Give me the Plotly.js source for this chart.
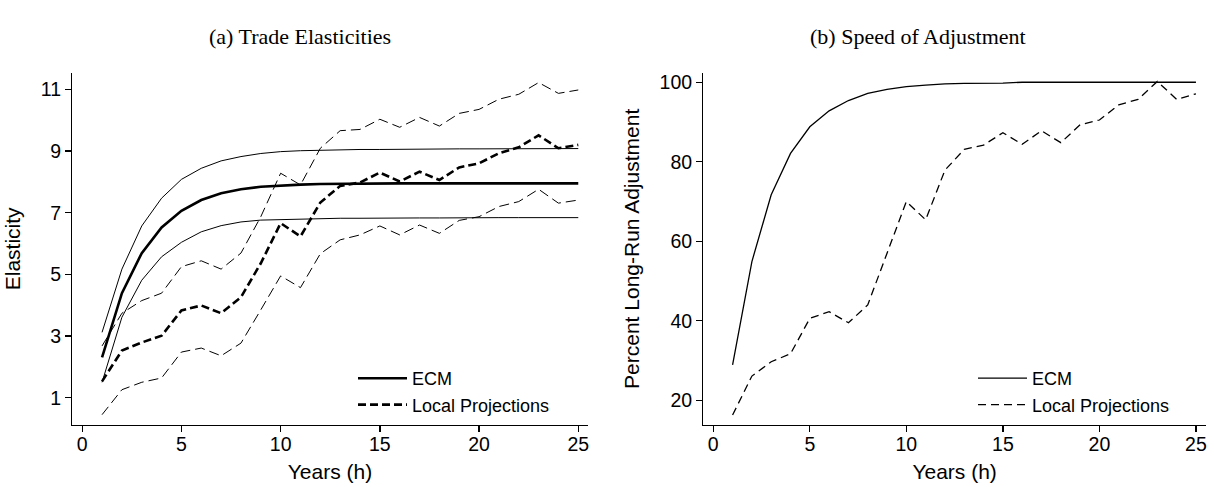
<!DOCTYPE html>
<html>
<head>
<meta charset="utf-8">
<script src="https://cdn.plot.ly/plotly-3.0.1.min.js"></script>
<style>html,body{margin:0;padding:0;background:#fff}#chart{width:1214px;height:487px}</style>
</head>
<body>
<div id="chart"></div>
<script>
const years = [1,2,3,4,5,6,7,8,9,10,11,12,13,14,15,16,17,18,19,20,21,22,23,24,25];

// Panel (a): Trade elasticities
const ecmElasticity = [2.31,4.39,5.69,6.52,7.06,7.41,7.63,7.76,7.84,7.88,7.91,7.93,7.94,7.94,7.95,7.95,7.95,7.95,7.95,7.95,7.95,7.95,7.95,7.95,7.95];
const ecmUpper = [3.12,5.17,6.57,7.47,8.08,8.44,8.68,8.82,8.92,8.98,9.01,9.03,9.04,9.05,9.05,9.06,9.06,9.07,9.07,9.07,9.07,9.08,9.08,9.08,9.08];
const ecmLower = [1.50,3.61,4.81,5.57,6.04,6.38,6.58,6.70,6.76,6.78,6.80,6.81,6.82,6.82,6.83,6.83,6.83,6.83,6.84,6.84,6.84,6.84,6.84,6.84,6.84];
const lpElasticity = [1.53,2.53,2.79,3.01,3.83,3.99,3.74,4.26,5.36,6.66,6.23,7.33,7.87,7.98,8.30,8.01,8.33,8.06,8.47,8.60,8.93,9.12,9.51,9.09,9.20];
const lpUpper = [2.68,3.74,4.15,4.39,5.25,5.44,5.17,5.69,6.87,8.28,7.90,9.09,9.66,9.70,10.03,9.77,10.09,9.81,10.22,10.35,10.68,10.84,11.22,10.87,10.98];
const lpLower = [0.45,1.26,1.50,1.64,2.48,2.61,2.36,2.77,3.85,4.95,4.57,5.67,6.12,6.28,6.57,6.28,6.60,6.33,6.75,6.87,7.20,7.36,7.76,7.31,7.41];

// Panel (b): Speed of adjustment (percent of long-run)
const ecmAdjust = [28.9,54.9,71.7,82.1,88.8,92.8,95.4,97.2,98.2,98.9,99.3,99.6,99.7,99.7,99.8,100,100,100,100,100,100,100,100,100,100];
const lpAdjust = [16.3,26.1,29.7,31.7,40.6,42.3,39.5,44.0,57.0,70.0,65.4,77.9,83.1,84.2,87.3,84.4,87.8,84.8,89.3,90.5,94.3,95.7,100.2,95.7,97.1];

const xTicks = [0,5,10,15,20,25];
const yTicksA = [1,3,5,7,9,11];
const yTicksB = [20,40,60,80,100];

const sans = "Liberation Sans, Arial, sans-serif";
const serif = "Liberation Serif, DejaVu Serif, serif";

const traces = [
  {x: years, y: ecmUpper, mode:'lines', line:{color:'#000', width:1}, showlegend:false, xaxis:'x', yaxis:'y', hoverinfo:'skip'},
  {x: years, y: ecmLower, mode:'lines', line:{color:'#000', width:1}, showlegend:false, xaxis:'x', yaxis:'y', hoverinfo:'skip'},
  {x: years, y: lpUpper, mode:'lines', line:{color:'#000', width:1, dash:'10px,5px'}, showlegend:false, xaxis:'x', yaxis:'y', hoverinfo:'skip'},
  {x: years, y: lpLower, mode:'lines', line:{color:'#000', width:1, dash:'10px,5px'}, showlegend:false, xaxis:'x', yaxis:'y', hoverinfo:'skip'},
  {x: years, y: ecmElasticity, name:'ECM', mode:'lines', line:{color:'#000', width:2.6}, xaxis:'x', yaxis:'y', legend:'legend'},
  {x: years, y: lpElasticity, name:'Local Projections', mode:'lines', line:{color:'#000', width:2.6, dash:'8px,4px'}, xaxis:'x', yaxis:'y', legend:'legend'},
  {x: years, y: ecmAdjust, name:'ECM', mode:'lines', line:{color:'#000', width:1.3}, xaxis:'x2', yaxis:'y2', legend:'legend2'},
  {x: years, y: lpAdjust, name:'Local Projections', mode:'lines', line:{color:'#000', width:1.3, dash:'8px,5px'}, xaxis:'x2', yaxis:'y2', legend:'legend2'}
];

function axisBase(extra){
  return Object.assign({
    showgrid:false, zeroline:false, showline:true, linecolor:'#000', linewidth:1.3,
    ticks:'outside', ticklen:6, tickwidth:1.3, tickcolor:'#000',
    tickfont:{family:sans, size:19.5, color:'#000'}, mirror:false
  }, extra);
}

const W = 1214, H = 487;
const yDom = [1-425/H, 1-72.7/H];
const titleFont = {family:sans, size:21, color:'#000'};

const layout = {
  width:W, height:H,
  margin:{l:0, r:0, t:0, b:0},
  paper_bgcolor:'#fff', plot_bgcolor:'#fff',
  showlegend:true,
  xaxis: axisBase({domain:[72.3/W, 587.6/W], range:[-0.5,25.47], tickvals:xTicks, anchor:'y', ticklabelstandoff:-5,
    title:{text:'Years (h)', font:titleFont, standoff:10}}),
  yaxis: axisBase({domain:yDom, range:[0.115,11.54], tickvals:yTicksA, anchor:'x',
    title:{text:'Elasticity', font:titleFont, standoff:14}}),
  xaxis2: axisBase({domain:[703.3/W, 1206/W], range:[-0.517,25.52], tickvals:xTicks, anchor:'y2', ticklabelstandoff:-5,
    title:{text:'Years (h)', font:titleFont, standoff:10}}),
  yaxis2: axisBase({domain:yDom, range:[13.79,102.4], tickvals:yTicksB, anchor:'x2',
    title:{text:'Percent Long-Run Adjustment', font:titleFont, standoff:14}}),
  legend: {x:353/W, y:1-360/H, xanchor:'left', yanchor:'top', bgcolor:'rgba(0,0,0,0)', itemwidth:49,
    font:{family:sans, size:18, color:'#000'}, tracegroupgap:0},
  legend2: {x:973/W, y:1-360/H, xanchor:'left', yanchor:'top', bgcolor:'rgba(0,0,0,0)', itemwidth:49,
    font:{family:sans, size:18, color:'#000'}, tracegroupgap:0},
  annotations: [
    {text:'(a) Trade Elasticities', xref:'paper', yref:'paper', x:300/W, y:1-37/H, xanchor:'center', yanchor:'middle', showarrow:false, font:{family:serif, size:22, color:'#000'}},
    {text:'(b) Speed of Adjustment', xref:'paper', yref:'paper', x:918/W, y:1-37/H, xanchor:'center', yanchor:'middle', showarrow:false, font:{family:serif, size:22, color:'#000'}}
  ]
};

Plotly.newPlot('chart', traces, layout, {displayModeBar:false, staticPlot:true});
</script>
</body>
</html>
